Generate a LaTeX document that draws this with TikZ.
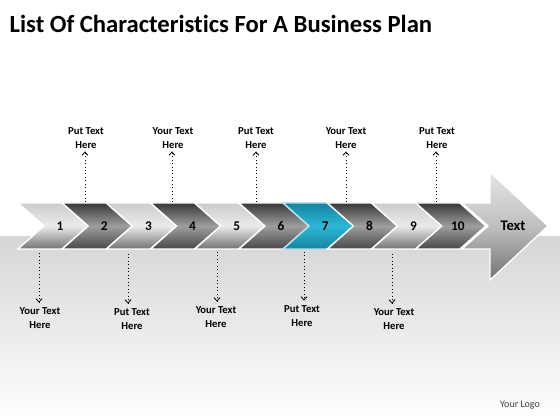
\documentclass[tikz,border=0pt]{standalone}
\usepackage{fontspec}
\setmainfont[Ligatures=NoCommon]{Carlito}
\usepackage{xcolor}
\usepackage{tikz}
\usetikzlibrary{positioning,arrows.meta,calc}
\definecolor{cteal}{HTML}{2CB8D8}
\definecolor{cdteal}{HTML}{16839E}
\definecolor{band}{HTML}{D6D6D6}

\begin{document}
\begin{tikzpicture}[x=0.75pt, y=-0.75pt,
  lite/.style={draw=white, line width=1pt, top color=black!20, bottom color=black!55, middle color=black!8},
  dark/.style={draw=white, line width=1pt, top color=black!78, bottom color=black!72, middle color=black!38},
  hot/.style={draw=cteal!40, line width=1pt, top color=cdteal, bottom color=cdteal, middle color=cteal},
  num/.style={font=\fontsize{10}{11}\selectfont\bfseries},
  lab/.style={font=\fontsize{8}{10.5}\selectfont\bfseries, align=center, inner sep=2pt},
  arr/.style={-{Straight Barb[length=2.5pt, width=4.5pt]}, dotted, line width=0.6pt}]

% --- page and grey band ---
\fill[white] (0,0) rectangle (560,420);
\shade[top color=band, bottom color=white] (0,237) rectangle (560,420);
\useasboundingbox (0,0) rectangle (560,420);

\node[anchor=base west, font=\fontsize{18.5}{22}\selectfont\bfseries] (title) at (5,33)
  {List Of Characteristics For A Business Plan};

% --- the big arrow at the end ---
\shade[draw=white, line width=1pt, top color=black!10, bottom color=black!55, middle color=black!25]
  (462,203) -- (490,203) -- (490,172) -- (548,226) -- (490,280) -- (490,249)
  -- (462,249) -- (488,226) -- cycle;
\node[font=\fontsize{11}{12}\selectfont\bfseries] (end) at (513,226) {Text};

% --- the ten chevrons ---
\foreach \i/\sty in {1/lite,2/dark,3/lite,4/dark,5/lite,6/dark,7/hot,8/dark,9/lite,10/dark}{
  \pgfmathsetmacro{\xl}{18+44.2*(\i-1)}
  \shade[\sty] (\xl,203) -- ++(44,0) -- ++(26,23) -- ++(-26,23) -- ++(-44,0)
    -- ++(26,-23) -- cycle;
  \node[num] (n\i) at (\xl+42,226) {\i};
}

% --- labels above ---
\node[lab] (t2)  at (86,138)  {Put Text\\Here};
\node[lab] (t4)  at (173,138) {Your Text\\Here};
\node[lab] (t6)  at (256,138) {Put Text\\Here};
\node[lab] (t8)  at (346,138) {Your Text\\Here};
\node[lab] (t10) at (437,138) {Put Text\\Here};
\coordinate (u2)  at (85,202);  \coordinate (u4) at (172,202);
\coordinate (u6)  at (256,202); \coordinate (u8) at (346,202);
\coordinate (u10) at (436,202);
\foreach \k in {2,4,6,8,10}
  \draw[arr] (u\k) -- (u\k |- t\k.south);

% --- labels below ---
\node[lab] (b1) at (40,318)  {Your Text\\Here};
\node[lab] (b3) at (132,319) {Put Text\\Here};
\node[lab] (b5) at (216,317) {Your Text\\Here};
\node[lab] (b7) at (302,316) {Put Text\\Here};
\node[lab] (b9) at (394,319) {Your Text\\Here};
\coordinate (d1) at (39,253);  \coordinate (d3) at (128,254);
\coordinate (d5) at (217,252); \coordinate (d7) at (304,252);
\coordinate (d9) at (392,254);
\foreach \k in {1,3,5,7,9}
  \draw[arr] (d\k) -- ($(d\k |- b\k.north)+(0,-2)$);

\node[font=\fontsize{7.5}{9}\selectfont, text=black!75] (logo) at (520,405) {Your Logo};
\end{tikzpicture}
\end{document}
